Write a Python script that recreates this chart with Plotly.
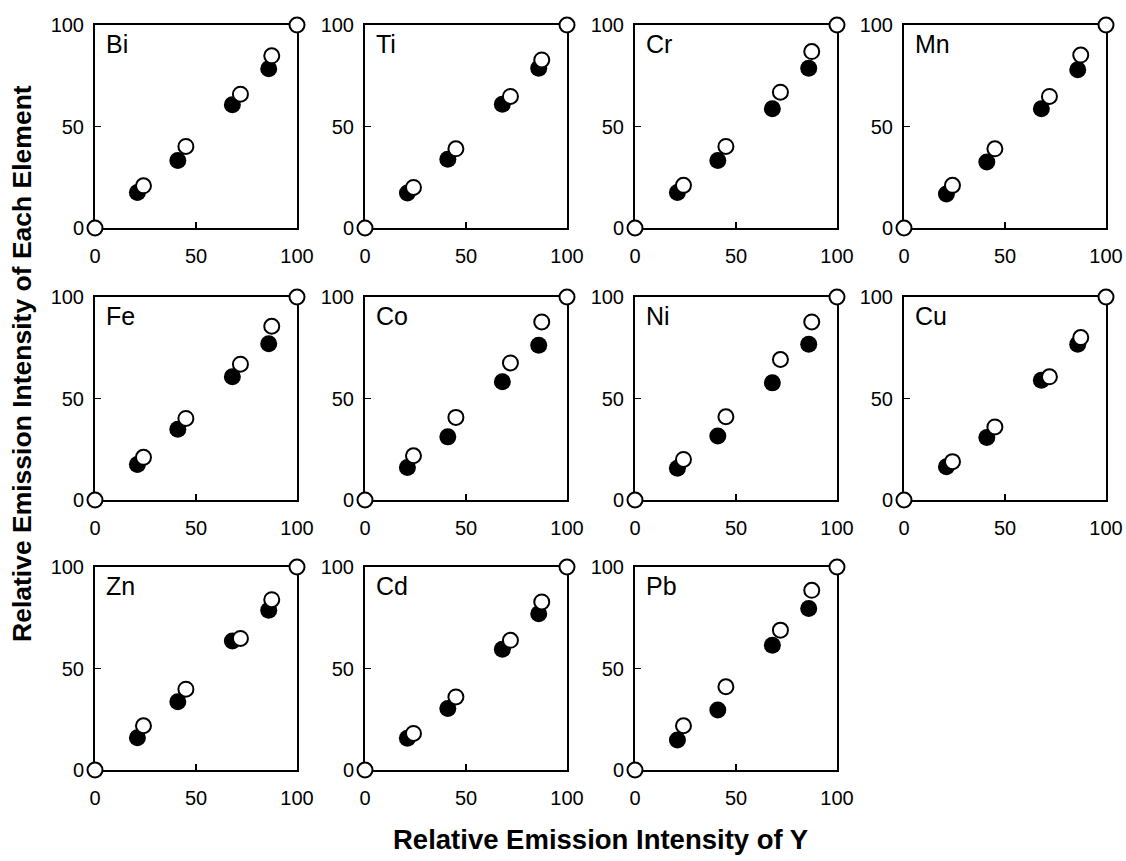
import plotly.graph_objects as go

W, H = 1126, 861

elements = ["Bi", "Ti", "Cr", "Mn", "Fe", "Co", "Ni", "Cu", "Zn", "Cd", "Pb"]

# Relative emission intensity of Y (x values)
x_filled = [21, 41, 68, 86]
x_open = [24, 45, 72, 87.5]
x_anchor = [0, 100]
y_anchor = [0, 100]

# Relative emission intensity of each element (y values)
bi_filled = [17.5, 33.3, 60.7, 78.4]
bi_open = [20.8, 40.2, 65.9, 84.8]
ti_filled = [17.2, 33.9, 61.0, 78.7]
ti_open = [20.0, 39.0, 64.8, 82.8]
cr_filled = [17.5, 33.3, 58.7, 78.7]
cr_open = [21.0, 40.2, 66.9, 86.9]
mn_filled = [16.7, 32.5, 58.7, 77.9]
mn_open = [21.0, 39.0, 64.8, 85.2]
fe_filled = [17.5, 34.9, 60.7, 77.0]
fe_open = [21.0, 40.2, 66.9, 85.6]
co_filled = [16.0, 31.1, 58.2, 76.2]
co_open = [21.8, 40.7, 67.5, 87.7]
ni_filled = [15.6, 31.5, 57.7, 76.7]
ni_open = [20.0, 41.0, 69.2, 87.7]
cu_filled = [16.4, 30.8, 59.0, 76.7]
cu_open = [18.9, 36.0, 60.7, 80.0]
zn_filled = [15.9, 33.6, 63.6, 78.7]
zn_open = [21.8, 39.8, 64.8, 83.9]
cd_filled = [15.6, 30.3, 59.5, 77.0]
cd_open = [18.0, 36.0, 63.9, 82.8]
pb_filled = [14.8, 29.5, 61.5, 79.5]
pb_open = [21.8, 41.0, 68.9, 88.5]

filled_series = [bi_filled, ti_filled, cr_filled, mn_filled, fe_filled, co_filled,
                 ni_filled, cu_filled, zn_filled, cd_filled, pb_filled]
open_series = [bi_open, ti_open, cr_open, mn_open, fe_open, co_open,
               ni_open, cu_open, zn_open, cd_open, pb_open]

tick_vals = [0, 50, 100]
tick_text = ["0", "50", "100"]

x_title = "Relative Emission Intensity of Y"
y_title = "Relative Emission Intensity of Each Element"

# layout geometry (window pixels)
col_left = [95, 365, 635, 904]
row_top = [25, 297, 567]
pw, ph = 202, 203

FONT = "Liberation Sans, Arial, Helvetica, sans-serif"


def px_x(v):
    return v / W


def px_y(v):
    return 1 - v / H


fig = go.Figure()
layout = dict(
    width=W, height=H,
    margin=dict(l=0, r=0, t=0, b=0, pad=0, autoexpand=False),
    paper_bgcolor="white", plot_bgcolor="white",
    showlegend=False, hovermode=False,
    font=dict(family=FONT, color="black"),
)
annotations = []

for i, el in enumerate(elements):
    r, c = divmod(i, 4)
    n = i + 1
    xa = "x" if n == 1 else f"x{n}"
    ya = "y" if n == 1 else f"y{n}"
    xkey = "xaxis" if n == 1 else f"xaxis{n}"
    ykey = "yaxis" if n == 1 else f"yaxis{n}"
    x0 = px_x(col_left[c])
    x1 = px_x(col_left[c] + pw)
    y1 = px_y(row_top[r])
    y0 = px_y(row_top[r] + ph)
    axis_common = dict(
        range=[0, 100], tickvals=tick_vals, ticktext=tick_text,
        ticks="inside", ticklen=6, tickwidth=1.5, tickcolor="black",
        showline=True, linewidth=2, linecolor="black", mirror=True,
        showgrid=False, zeroline=False, fixedrange=True, automargin=False,
        layer="below traces",
        tickfont=dict(family=FONT, size=20, color="black"),
    )
    layout[xkey] = dict(axis_common, domain=[x0, x1], anchor=ya, ticklabelstandoff=9)
    layout[ykey] = dict(axis_common, domain=[y0, y1], anchor=xa, ticklabelstandoff=5)

    fig.add_trace(go.Scatter(
        x=x_filled, y=filled_series[i], mode="markers", xaxis=xa, yaxis=ya,
        marker=dict(size=17, color="black", line=dict(width=0)), cliponaxis=False))
    fig.add_trace(go.Scatter(
        x=x_open, y=open_series[i], mode="markers", xaxis=xa, yaxis=ya,
        marker=dict(size=15, color="white", line=dict(width=2, color="black")),
        cliponaxis=False))
    fig.add_trace(go.Scatter(
        x=x_anchor, y=y_anchor, mode="markers", xaxis=xa, yaxis=ya,
        marker=dict(size=15, color="white", line=dict(width=2, color="black")),
        cliponaxis=False))
    annotations.append(dict(
        text=el, xref=f"{xa} domain", yref=f"{ya} domain", x=0.045, y=0.985,
        xanchor="left", yanchor="top", showarrow=False,
        font=dict(family=FONT, size=25, color="black")))

annotations.append(dict(
    text=f"<b>{x_title}</b>", xref="paper", yref="paper",
    x=px_x(600), y=px_y(839), xanchor="center", yanchor="middle", showarrow=False,
    font=dict(family=FONT, size=27.5, color="black")))
annotations.append(dict(
    text=f"<b>{y_title}</b>", xref="paper", yref="paper",
    x=px_x(22), y=px_y(364), xanchor="center", yanchor="middle", showarrow=False,
    textangle=-90, font=dict(family=FONT, size=26.5, color="black")))

layout["annotations"] = annotations
fig.update_layout(**layout)
fig.write_html(
    "out.html",
    config={"displayModeBar": False, "staticPlot": True},
    post_script="document.body.style.margin='0';document.body.style.overflow='hidden';",
)
